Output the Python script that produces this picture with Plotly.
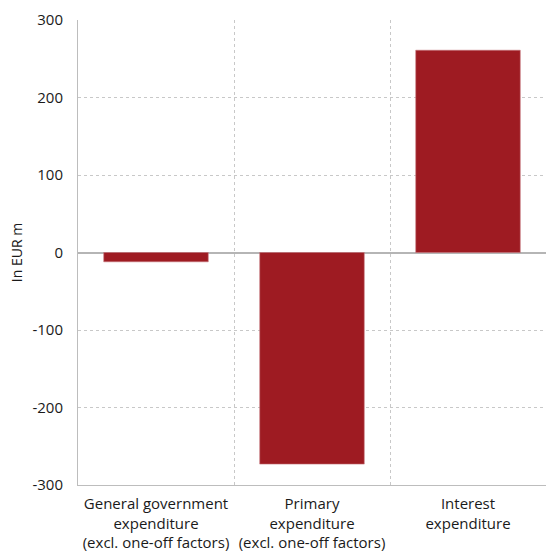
import plotly.graph_objects as go

categories = [
    "General government<br>expenditure<br>(excl. one-off factors)",
    "Primary<br>expenditure<br>(excl. one-off factors)",
    "Interest<br>expenditure",
]
values = [-12, -273, 261]
y_ticks = [-300, -200, -100, 0, 100, 200, 300]

bar_color = "#9e1b22"
grid_color = "#c8c8c8"
font_family = "Open Sans, Noto Sans, sans-serif"

fig = go.Figure(
    go.Bar(
        x=categories,
        y=values,
        marker=dict(color=bar_color, line=dict(color="#c4747a", width=0.6)),
        width=0.67,
    )
)

fig.update_layout(
    width=546,
    height=553,
    margin=dict(l=78, r=0, t=20, b=68),
    plot_bgcolor="white",
    paper_bgcolor="white",
    showlegend=False,
    font=dict(family=font_family, size=13, color="#1a1a1a"),
)

fig.update_xaxes(
    type="category",
    automargin=False,
    tickson="boundaries",
    showgrid=True,
    gridcolor=grid_color,
    griddash="dot",
    gridwidth=1,
    ticks="",
    ticklabelstandoff=5,
    tickfont=dict(size=15, color="#1a1a1a"),
    showline=True,
    linecolor="#bdbdbd",
    linewidth=1,
    mirror=False,
)

fig.update_yaxes(
    automargin=False,
    range=[-300, 300],
    tickvals=y_ticks,
    ticktext=[str(v) for v in y_ticks],
    showgrid=True,
    gridcolor=grid_color,
    griddash="dot",
    gridwidth=1,
    zeroline=True,
    zerolinecolor="#b5b5b5",
    zerolinewidth=1.5,
    showline=True,
    linecolor="#bdbdbd",
    linewidth=1,
    ticks="",
    ticklabelstandoff=11,
    tickfont=dict(size=15, color="#1a1a1a"),
    title=dict(text="In EUR m", font=dict(size=14, color="#1a1a1a"), standoff=6),
)

fig.write_html("out.html")
